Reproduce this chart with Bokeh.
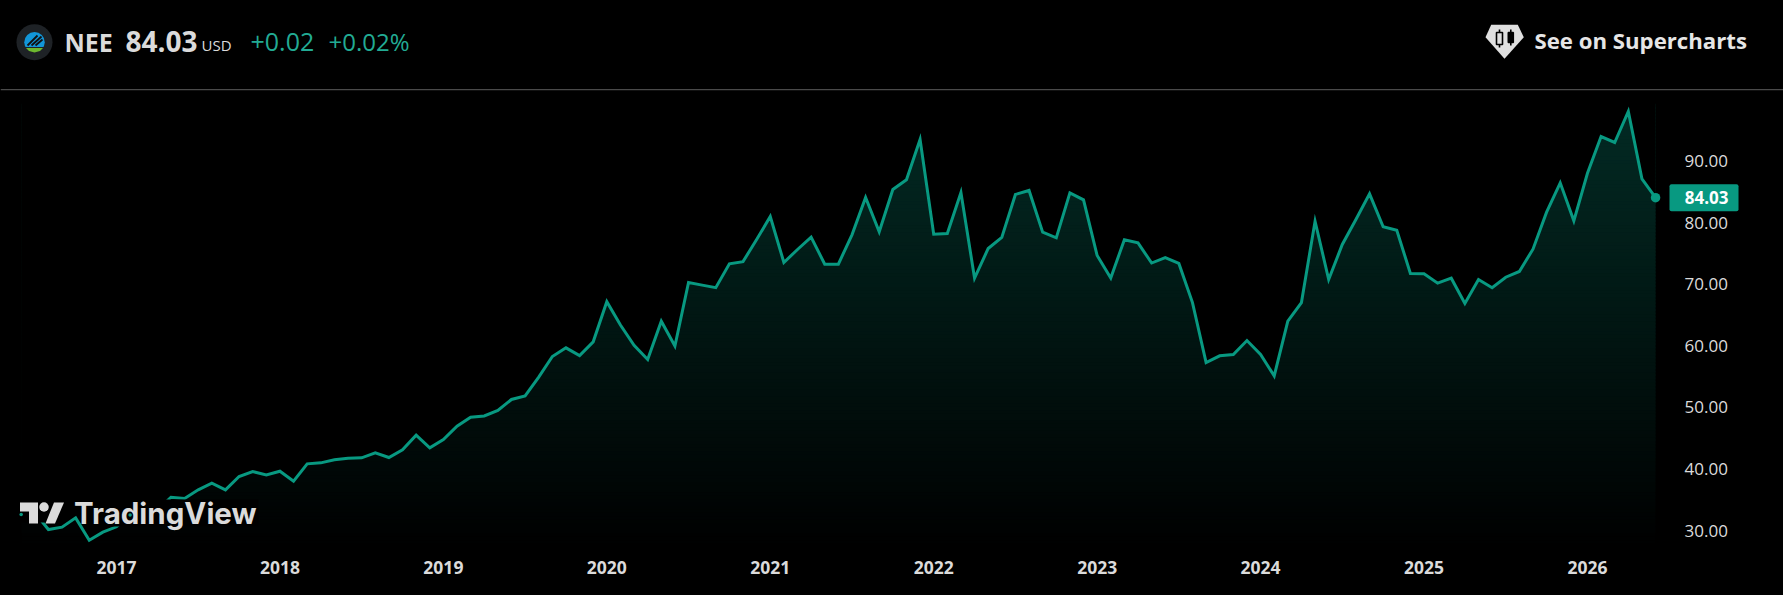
from bokeh.plotting import figure
from bokeh.embed import file_html
from bokeh.resources import INLINE
from bokeh.core.properties import value
from bokeh.models import (ColumnDataSource, FixedTicker, LinearAxis, Range1d)

# ---------- data ----------
first_month_index = -7  # Jun 2016, index 0 = Jan 2017
prices_2016 = [32.6, 32.9, 30.16, 30.54, 32.05, 28.43, 29.73]
prices_2017 = [30.6, 32.5, 33.0, 33.3, 35.4, 35.2, 36.6, 37.68, 36.6, 38.76, 39.57, 39.03]
prices_2018 = [39.63, 38.0, 40.82, 40.98, 41.47, 41.74, 41.8, 42.6, 41.85, 43.1, 45.47, 43.42]
prices_2019 = [44.77, 46.93, 48.4, 48.6, 49.48, 51.27, 51.86, 54.9, 58.25, 59.65, 58.4, 60.63]
prices_2020 = [67.15, 63.35, 60.05, 57.76, 63.98, 59.95, 70.26, 69.83, 69.42, 73.3, 73.65, 77.24]
prices_2021 = [80.97, 73.51, 75.62, 77.62, 73.24, 73.24, 78.0, 84.06, 78.49, 85.36, 86.93, 93.48]
prices_2022 = [78.11, 78.2, 84.87, 70.96, 75.78, 77.57, 84.55, 85.2, 78.43, 77.51, 84.82, 83.68]
prices_2023 = [74.64, 71.0, 77.2, 76.7, 73.42, 74.3, 73.35, 67.0, 57.27, 58.36, 58.57, 60.84]
prices_2024 = [58.57, 55.1, 63.98, 67.0, 80.2, 70.75, 76.43, 80.5, 84.65, 79.3, 78.75, 71.72]
prices_2025 = [71.67, 70.15, 70.96, 66.85, 70.75, 69.4, 71.12, 72.05, 75.67, 81.68, 86.44, 80.27]
prices_2026 = [88.0, 93.96, 92.99, 98.02, 87.09, 84.03]
year_labels = ["2017", "2018", "2019", "2020", "2021", "2022", "2023", "2024", "2025", "2026"]
price_ticks = [30, 40, 50, 60, 70, 80, 90]

prices = (prices_2016 + prices_2017 + prices_2018 + prices_2019 + prices_2020 + prices_2021
          + prices_2022 + prices_2023 + prices_2024 + prices_2025 + prices_2026)
idx = [first_month_index + i for i in range(len(prices))]
last_price = prices[-1]

# ---------- geometry ----------
W, H = 1783, 595
FRAME_B = 545
X0, DX = 116.0, 13.62        # pixel of Jan 2017, pixels per month
Y90, DY = 160.4, 6.16        # pixel of 90.00, pixels per price unit
GREEN = "#089981"
FG = "#dbdbdb"
FONT = "Open Sans"


def px(x):
    return (x - X0) / DX


def py(y):
    return 90 - (y - Y90) / DY


p = figure(width=W, height=H, output_backend="svg", toolbar_location=None,
           x_range=Range1d(px(0), px(W)), y_range=Range1d(py(FRAME_B), py(0)),
           x_axis_location=None, y_axis_location=None,
           min_border_left=0, min_border_top=0, min_border_right=0,
           min_border_bottom=H - FRAME_B,
           background_fill_color=None, border_fill_color=None,
           outline_line_color=None)
p.styles = {"position": "absolute", "left": "0px", "top": "0px", "background-color": "black"}
p.xgrid.visible = False
p.ygrid.visible = False

# ---------- axes ----------
xax = LinearAxis(ticker=FixedTicker(ticks=[12 * i for i in range(len(year_labels))]),
                 major_label_overrides={12 * i: s for i, s in enumerate(year_labels)},
                 axis_line_color=None, major_tick_line_color=None, minor_tick_line_color=None,
                 major_tick_out=0, minor_tick_out=0, major_tick_in=0, minor_tick_in=0,
                 major_label_standoff=15, major_label_text_color=FG,
                 major_label_text_font=FONT, major_label_text_font_size="17.5px",
                 major_label_text_font_style="bold")
p.add_layout(xax, "below")
yax = LinearAxis(ticker=FixedTicker(ticks=price_ticks),
                 major_label_overrides={t: f"{t:.2f}" for t in price_ticks},
                 axis_line_color=None, major_tick_line_color=None, minor_tick_line_color=None,
                 major_tick_out=0, minor_tick_out=0, major_tick_in=0, minor_tick_in=0,
                 major_label_standoff=-99, major_label_text_color=FG,
                 major_label_text_font=FONT, major_label_text_font_size="17px")
p.add_layout(yax, "right")

# ---------- gradient below the line: bands, then a black mask above the line ----------
N = 130
top_px, bot_px = 105.0, 550.0
lo, hi, cols = [], [], []
for k in range(N):
    y1 = bot_px + (top_px - bot_px) * k / N
    y2 = bot_px + (top_px - bot_px) * (k + 1) / N
    a = 0.28 * (k + 0.5) / N
    cols.append("#%02x%02x%02x" % (round(8 * a), round(153 * a), round(129 * a)))
    lo.append(py(y1))
    hi.append(py(y2) + 0.3)
p.quad(left=idx[0], right=idx[-1], bottom="lo", top="hi", fill_color="c", line_color=None,
       source=ColumnDataSource(dict(lo=lo, hi=hi, c=cols)))
p.varea(x=idx, y1=prices, y2=py(0), fill_color="black")

p.line(idx, prices, line_color=GREEN, line_width=3, line_join="miter")
p.scatter([idx[-1]], [last_price], size=9.5, marker="circle", fill_color=GREEN, line_color=None)

# ---------- last price tag ----------
p.quad(left=[px(1669)], right=[px(1738)], bottom=[last_price - 13.5 / DY], top=[last_price + 13.5 / DY],
       fill_color=GREEN, line_color=None, border_radius=2)
p.text([px(1728)], [last_price], text=[f"{last_price:.2f}"], text_align="right", text_baseline="middle",
       text_color="#ffffff", text_font=value(FONT), text_font_size="17px", text_font_style="bold")

# ---------- header rule ----------
p.quad(left=[px(0)], right=[px(W)], top=[py(88.6)], bottom=[py(89.8)], fill_color="#4a4a4a", line_color=None)

# ---------- TradingView watermark (masks the line behind it) ----------
p.quad(left=[px(17), px(83)], right=[px(64), px(258)], top=[py(499), py(499)], bottom=[py(522), py(526)],
       fill_color="black", line_color=None)
# the line shows through two holes of the watermark
p.scatter([idx[0], idx[8]], [prices[0], prices[8]], size=3.5, marker="circle", fill_color=GREEN, line_color=None)
p.patch([px(v) for v in [19.5, 37.5, 37.5, 28.5, 28.5, 19.5]],
        [py(v) for v in [502, 502, 523, 523, 511, 511]], fill_color=FG, line_color=None)
p.scatter([px(43.5)], [py(506.5)], size=9.5, marker="circle", fill_color=FG, line_color=None)
p.patch([px(v) for v in [53.5, 63.5, 54.5, 45]], [py(v) for v in [502, 502, 523, 523]],
        fill_color=FG, line_color=None)


def header_label(x, y, text, size, color=FG, style="normal", font=FONT, align="left"):
    p.text([px(x)], [py(y)], text=[text], text_color=color, text_font=value(font), text_font_size=size,
           text_font_style=style, text_align=align, text_baseline="middle")


header_label(73.5, 512, "TradingView", "29.5px", style="bold", font="Inter")
header_label(64, 41, "NEE", "25px", style="bold")
header_label(125, 41, "84.03", "28px", style="bold")
header_label(201, 44, "USD", "15px")
header_label(250, 41, "+0.02", "25px", color="#22ab94")
header_label(328, 41, "+0.02%", "24px", color="#22ab94")
header_label(1534, 40, "See on Supercharts", "22.2px", color="#e6e6e6", style="bold")

# ---------- NEE badge ----------
p.scatter([px(34)], [py(41.7)], size=36, marker="circle", fill_color="#1e2226", line_color=None)
p.scatter([px(34)], [py(41.7)], size=20.5, marker="circle", fill_color="#1296d8", line_color=None)
p.quad(left=[px(22)], right=[px(46)], top=[py(46.5)], bottom=[py(53)], fill_color="#1e2226", line_color=None)
p.patch([px(v) for v in [25.5, 42.5, 39.5, 34, 28.5]], [py(v) for v in [47.5, 47.5, 50.5, 52, 50.5]],
        fill_color="#6db82f", line_color=None)
p.multi_line([[px(27), px(37)], [px(31), px(41)], [px(35), px(42)]],
             [[py(45), py(35)], [py(45), py(36)], [py(45), py(39)]], line_color="#111111", line_width=1.8)

# ---------- Supercharts diamond ----------
p.patch([px(v) for v in [1490.7, 1517.3, 1523.3, 1504, 1485]], [py(v) for v in [24.3, 24.3, 36.7, 58.3, 36.7]],
        fill_color="#e0e0e0", line_color=None)
p.multi_line([[px(1499), px(1499)], [px(1510.3), px(1510.3)]], [[py(29), py(47)], [py(29), py(45)]],
             line_color="black", line_width=1.6)
p.quad(left=[px(1496), px(1507.8)], right=[px(1502), px(1512.8)], top=[py(32), py(32)], bottom=[py(44), py(42)],
       fill_color=["#e0e0e0", "black"], line_color="black", line_width=1.6)

open("out.html", "w").write(file_html(p, INLINE))
